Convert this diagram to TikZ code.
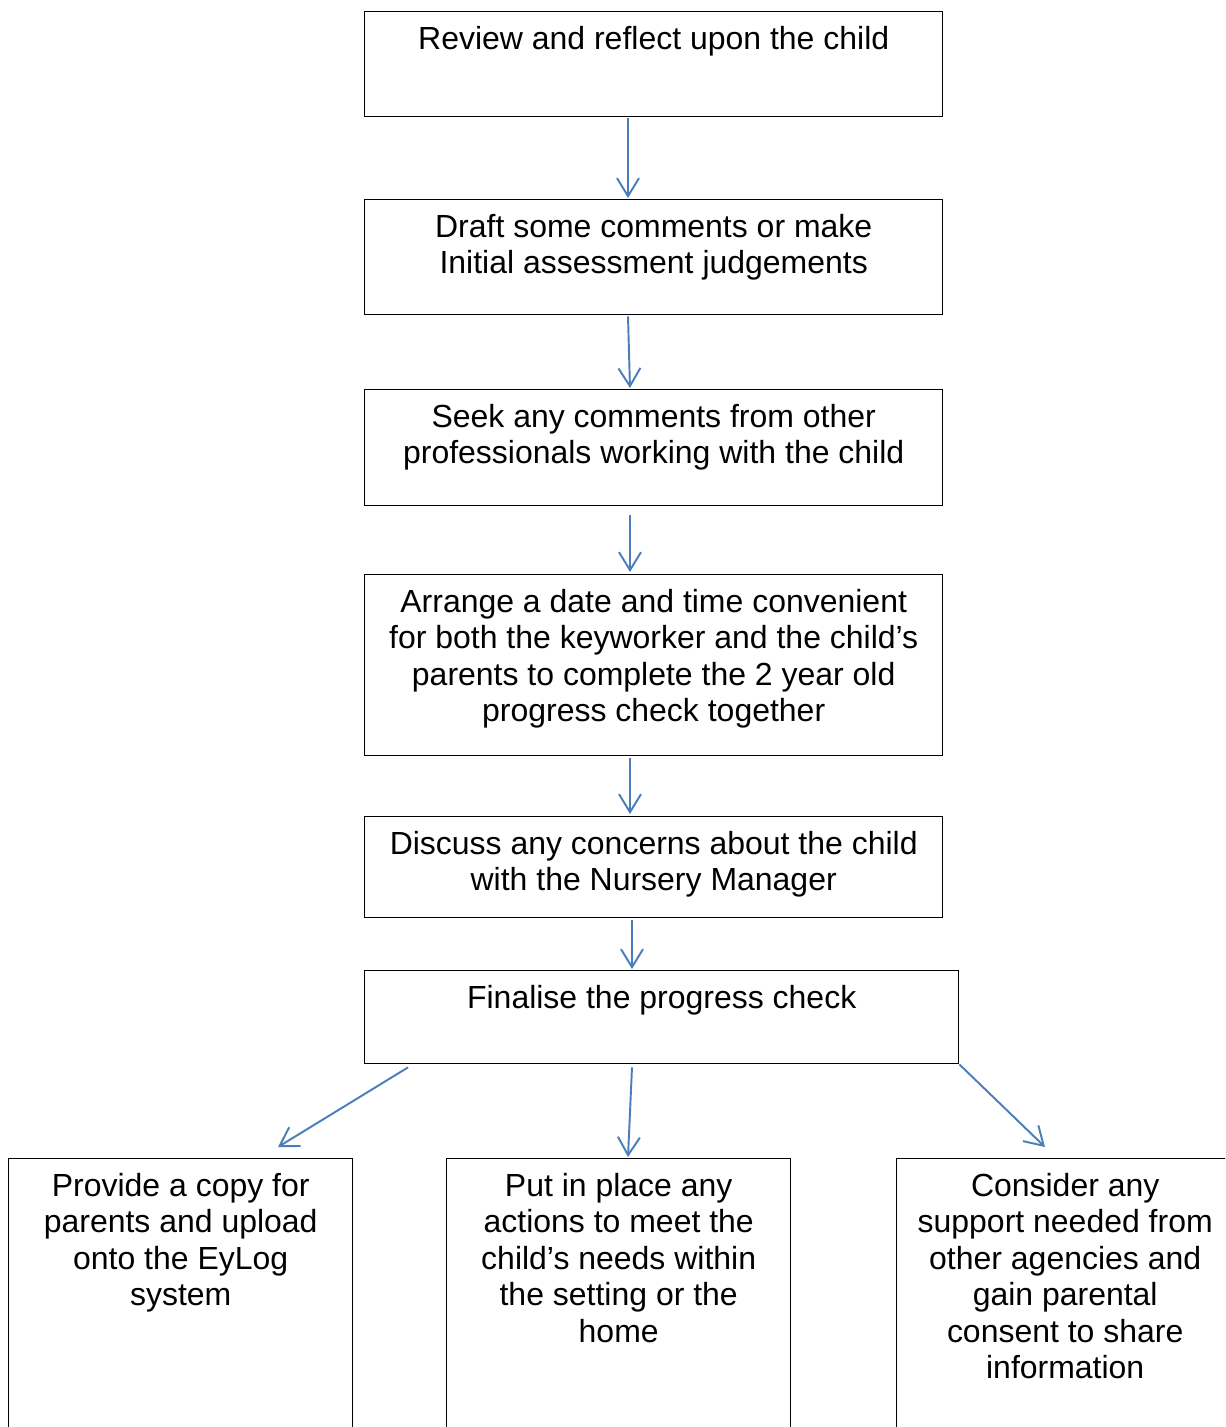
\documentclass[tikz,border=0pt]{standalone}
\usepackage{fontspec}
\setmainfont{Liberation Sans}
\usetikzlibrary{arrows.meta,calc}
\definecolor{arrowblue}{RGB}{74,126,187}
\def\pxl{0.02cm}
\tikzset{
  box/.style={draw=black, line width=0.8pt, fill=none, anchor=north west, inner sep=0pt},
  txt/.style={anchor=north, align=center, inner sep=0pt, font=\fontsize{18.2pt}{20.8pt}\selectfont},
  flow/.style={draw=arrowblue, line width=1.1pt, -{Straight Barb[length=0.36cm,width=0.44cm]}}
}
\begin{document}
\begin{tikzpicture}[x=0.02cm, y=-0.02cm]
\useasboundingbox (0,0) rectangle (1225,1427);
\clip (0,0) rectangle (1225,1427);
% boxes
\node[box, minimum width=578*\pxl, minimum height=105*\pxl] (b1) at (364,11) {};
\node[box, minimum width=578*\pxl, minimum height=115*\pxl] (b2) at (364,199) {};
\node[box, minimum width=578*\pxl, minimum height=116*\pxl] (b3) at (364,389) {};
\node[box, minimum width=578*\pxl, minimum height=181*\pxl] (b4) at (364,574) {};
\node[box, minimum width=578*\pxl, minimum height=101*\pxl] (b5) at (364,816) {};
\node[box, minimum width=594*\pxl, minimum height=93*\pxl] (b6) at (364,970) {};
\node[box, minimum width=344*\pxl, minimum height=300*\pxl] (b7) at (8,1158) {};
\node[box, minimum width=344*\pxl, minimum height=300*\pxl] (b8) at (446,1158) {};
\node[box, minimum width=337*\pxl, minimum height=300*\pxl] (b9) at (896,1158) {};
% texts
\node[txt] (t1) at ($(b1.north)+(0,12.3)$) {\strut Review and reflect upon the child};
\node[txt] (t2) at ($(b2.north)+(0,12.3)$) {\strut Draft some comments or make\\Initial assessment judgements};
\node[txt] (t3) at ($(b3.north)+(0,12.3)$) {\strut Seek any comments from other\\professionals working with the child};
\node[txt] (t4) at ($(b4.north)+(0,12.3)$) {\strut Arrange a date and time convenient\\for both the keyworker and the child’s\\parents to complete the 2 year old\\progress check together};
\node[txt] (t5) at ($(b5.north)+(0,12.3)$) {\strut Discuss any concerns about the child\\with the Nursery Manager};
\node[txt] (t6) at ($(b6.north)+(0,12.3)$) {\strut Finalise the progress check};
\node[txt] (t7) at ($(b7.north)+(0,12.3)$) {\strut Provide a copy for\\parents and upload\\onto the EyLog\\system};
\node[txt] (t8) at ($(b8.north)+(0,12.3)$) {\strut Put in place any\\actions to meet the\\child’s needs within\\the setting or the\\home};
\node[txt] (t9) at ($(b9.north)+(0,12.3)$) {\strut Consider any\\support needed from\\other agencies and\\gain parental\\consent to share\\information};
% connectors
\draw[flow] ($(b1.south west)+(264,1)$) -- ($(b2.north west)+(264,-1)$);
\draw[flow] ($(b2.south west)+(264,1)$) -- ($(b3.north west)+(266,-1)$);
\draw[flow] ($(b3.south west)+(266,9)$) -- ($(b4.north west)+(266,-2)$);
\draw[flow] ($(b4.south west)+(266,2)$) -- ($(b5.north west)+(266,-2)$);
\draw[flow] ($(b5.south west)+(268,2)$) -- ($(b6.north west)+(268,-1)$);
\draw[flow] ($(b6.south west)+(44,3)$) -- ($(b7.north west)+(270,-11)$);
\draw[flow] ($(b6.south west)+(268,3)$) -- ($(b8.north west)+(182,-1)$);
\draw[flow] (b6.south east) -- ($(b9.north west)+(149,-11)$);
\end{tikzpicture}
\end{document}
